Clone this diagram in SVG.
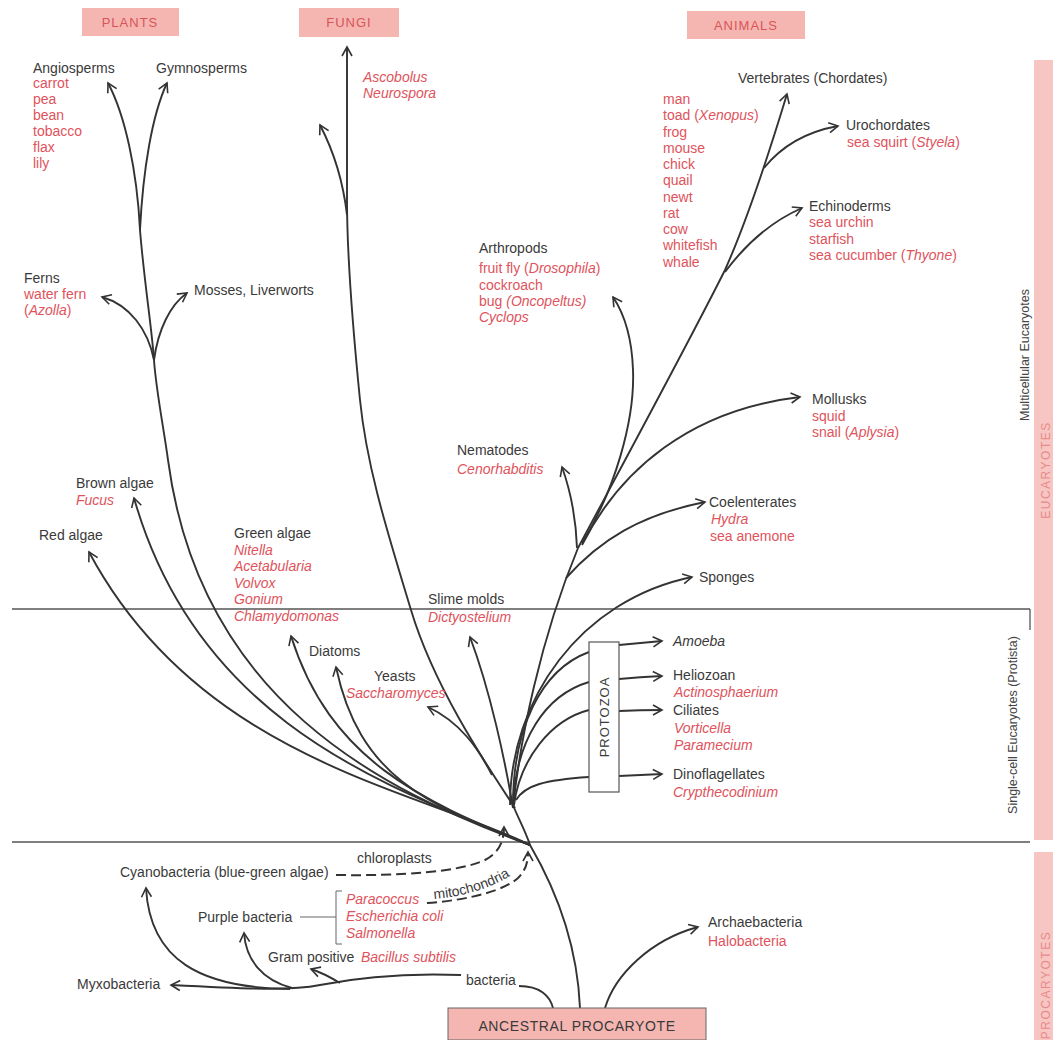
<svg xmlns="http://www.w3.org/2000/svg" width="1053" height="1040" viewBox="0 0 1053 1040">
<style>
text{font-family:"Liberation Sans",Arial,sans-serif;font-size:14px}
.lb{fill:#3a3a3a}
.sp{fill:#e0535c}
.it{font-style:italic}
.bx{fill:#f5b6b1}
.bt{fill:#d9545a;font-size:13px;letter-spacing:1px;text-anchor:middle}
.side{fill:#444;font-size:12.5px;text-anchor:middle}
.bar{fill:#e88a8a;font-size:12px;letter-spacing:1.5px;text-anchor:middle}
.c{fill:none;stroke:#333;stroke-width:1.9;marker-end:url(#ah)}
.t{fill:none;stroke:#333;stroke-width:1.9}
.d{fill:none;stroke:#333;stroke-width:2;stroke-dasharray:10 5;marker-end:url(#ah)}
.rule{stroke:#555;stroke-width:1.3;fill:none}
.thin{stroke:#666;stroke-width:1;fill:none}
</style>
<defs>
<marker id="ah" viewBox="-11 -7 13 14" markerWidth="13" markerHeight="14" refX="0" refY="0" orient="auto" markerUnits="userSpaceOnUse">
<path d="M-9,-5 L0,0 L-9,5" fill="none" stroke="#333" stroke-width="1.6"/>
</marker>
<path id="mitoPath" d="M434,899 C468,896 500,886 524,866"/>
</defs>
<rect width="1053" height="1040" fill="#fff"/>

<!-- section rules and side bars -->
<g id="sections">
<rect x="1034" y="60" width="19" height="780" fill="#f7c6c2"/>
<rect x="1034" y="852" width="19" height="188" fill="#f7c6c2"/>
<line class="rule" x1="12" y1="609" x2="1030" y2="609"/>
<line class="rule" x1="1030" y1="609" x2="1030" y2="630"/>
<line class="rule" x1="12" y1="842" x2="1030" y2="842"/>
<text class="side" x="1029" y="355" transform="rotate(-90 1029 355)">Multicellular Eucaryotes</text>
<text class="side" x="1017" y="725" transform="rotate(-90 1017 725)">Single-cell Eucaryotes (Protista)</text>
<text class="bar" x="1050" y="470" transform="rotate(-90 1050 470)">EUCARYOTES</text>
<text class="bar" x="1050" y="985" transform="rotate(-90 1050 985)">PROCARYOTES</text>
</g>

<g id="connectors">
<!-- trunk -->
<path class="t" d="M580,1008 C578,960 565,905 530,845"/>
<path class="t" d="M530,845 C525,830 518,818 513,805"/>
<!-- left bundle -->
<path class="c" d="M530,845 C420,790 200,760 89,552"/>
<path class="c" d="M530,845 C400,790 200,730 134,498"/>
<path class="t" d="M530,845 C380,790 200,700 168,460 C164,430 156,390 154,360 C152,330 144,280 140,230"/>
<path class="c" d="M140,230 C137,170 125,115 108,83"/>
<path class="c" d="M140,230 C143,170 152,115 167,83"/>
<path class="c" d="M154,360 C148,330 130,305 102,297"/>
<path class="c" d="M154,360 C158,330 170,305 187,293"/>
<path class="c" d="M530,845 C420,800 330,760 291,636"/>
<path class="c" d="M530,845 C430,805 360,780 336,667"/>
<!-- fungi -->
<path class="c" d="M515,808 C490,770 435,690 411,610 C390,540 367,470 360,400 C352,320 347,250 347,200 L347,47"/>
<path class="c" d="M347,215 C343,180 333,150 320,125"/>
<path class="c" d="M492,775 C478,748 460,722 428,707"/>
<path class="c" d="M513,808 C505,760 490,690 470,637"/>
<!-- animals -->
<path class="t" d="M513,808 C520,740 540,640 578,548"/>
<path class="c" d="M578,548 C625,460 690,340 725,270 C745,225 770,150 787,94"/>
<path class="c" d="M764,168 C780,148 805,132 838,126"/>
<path class="c" d="M725,272 C745,245 770,222 802,208"/>
<path class="c" d="M582,543 C615,490 635,420 633,370 C632,340 625,315 613,297"/>
<path class="c" d="M582,545 C620,470 690,410 800,397"/>
<path class="c" d="M577,548 C576,520 572,495 562,467"/>
<path class="c" d="M566,578 C600,540 640,515 705,502"/>
<path class="c" d="M510,805 C510,700 580,600 692,577"/>
<!-- protozoa -->
<path class="t" d="M513,805 C513,730 540,670 589,652"/>
<path class="t" d="M513,805 C516,740 545,695 589,682"/>
<path class="t" d="M514,805 C520,760 550,720 589,710"/>
<path class="t" d="M516,800 C525,785 545,780 589,777"/>
<path class="c" d="M619,645 Q640,643 662,641"/>
<path class="c" d="M619,679 Q640,677 662,676"/>
<path class="c" d="M619,711 Q640,710 662,710"/>
<path class="c" d="M619,776 Q640,775 662,774"/>
<!-- procaryotes -->
<path class="c" d="M605,1008 C615,975 650,940 698,927"/>
<path class="t" d="M519,986 C540,986 550,996 553,1008"/>
<path class="c" d="M461,975 C410,973 360,977 320,985 C290,991 250,989 171,985"/>
<path class="c" d="M290,989 C200,988 150,960 146,888"/>
<path class="c" d="M292,988 C262,980 246,960 244,933"/>
<path class="c" d="M340,983 C330,977 320,972 311,969"/>
<path class="d" d="M336,875 C400,876 460,872 485,860 C500,852 504,840 504,827"/>
<path class="d" d="M427,903 C470,900 505,890 518,878 C526,870 528,862 528,852"/>
<path class="thin" d="M300,917 L336,917 M342,891 L336,891 L336,944 L342,944"/>
</g>

<!-- kingdom boxes -->
<g id="plants-box"><rect class="bx" x="82" y="8" width="97" height="28"/><text class="bt" x="130" y="27">PLANTS</text></g>
<g id="fungi-box"><rect class="bx" x="299" y="8" width="100" height="29"/><text class="bt" x="349" y="27">FUNGI</text></g>
<g id="animals-box"><rect class="bx" x="687" y="11" width="118" height="28"/><text class="bt" x="746" y="30">ANIMALS</text></g>
<g id="ancestral"><rect x="448" y="1008" width="258" height="32" fill="#f5b6b1" stroke="#666" stroke-width="1"/><text x="577" y="1031" style="fill:#3a3a3a;font-size:14px;letter-spacing:0.6px;text-anchor:middle">ANCESTRAL PROCARYOTE</text></g>
<g id="protozoa"><rect x="589" y="642" width="30" height="150" fill="#fff" stroke="#555" stroke-width="1.2"/><text x="609" y="717" transform="rotate(-90 609 717)" style="fill:#3a3a3a;font-size:13px;letter-spacing:1px;text-anchor:middle">PROTOZOA</text></g>

<!-- plants -->
<g id="angiosperms"><text class="lb" x="33" y="73">Angiosperms</text>
<text class="sp" x="33" y="88">carrot</text><text class="sp" x="33" y="104">pea</text><text class="sp" x="33" y="120">bean</text><text class="sp" x="33" y="136">tobacco</text><text class="sp" x="33" y="152">flax</text><text class="sp" x="33" y="168">lily</text></g>
<g id="gymnosperms"><text class="lb" x="156" y="73">Gymnosperms</text></g>
<g id="ferns"><text class="lb" x="24" y="283">Ferns</text><text class="sp" x="24" y="299">water fern</text><text class="sp" x="24" y="315">(<tspan class="it">Azolla</tspan>)</text></g>
<g id="mosses"><text class="lb" x="194" y="295">Mosses, Liverworts</text></g>
<g id="brown-algae"><text class="lb" x="76" y="488">Brown algae</text><text class="sp it" x="76" y="505">Fucus</text></g>
<g id="red-algae"><text class="lb" x="39" y="540">Red algae</text></g>
<g id="green-algae"><text class="lb" x="234" y="538">Green algae</text>
<text class="sp it" x="234" y="555">Nitella</text><text class="sp it" x="234" y="571">Acetabularia</text><text class="sp it" x="234" y="588">Volvox</text><text class="sp it" x="234" y="604">Gonium</text><text class="sp it" x="234" y="621">Chlamydomonas</text></g>
<g id="diatoms"><text class="lb" x="309" y="656">Diatoms</text></g>
<g id="yeasts"><text class="lb" x="374" y="681">Yeasts</text><text class="sp it" x="346" y="698">Saccharomyces</text></g>
<g id="slime-molds"><text class="lb" x="428" y="604">Slime molds</text><text class="sp it" x="428" y="622">Dictyostelium</text></g>
<g id="fungi"><text class="sp it" x="363" y="82">Ascobolus</text><text class="sp it" x="363" y="98">Neurospora</text></g>

<!-- animals -->
<g id="arthropods"><text class="lb" x="479" y="253">Arthropods</text>
<text class="sp" x="479" y="273">fruit fly (<tspan class="it">Drosophila</tspan>)</text><text class="sp" x="479" y="290">cockroach</text><text class="sp" x="479" y="306">bug <tspan class="it">(Oncopeltus)</tspan></text><text class="sp it" x="479" y="322">Cyclops</text></g>
<g id="nematodes"><text class="lb" x="457" y="455">Nematodes</text><text class="sp it" x="457" y="474">Cenorhabditis</text></g>
<g id="vertebrates"><text class="lb" x="738" y="83">Vertebrates (Chordates)</text>
<text class="sp" x="663" y="104">man</text><text class="sp" x="663" y="120">toad (<tspan class="it">Xenopus</tspan>)</text><text class="sp" x="663" y="137">frog</text><text class="sp" x="663" y="153">mouse</text><text class="sp" x="663" y="169">chick</text><text class="sp" x="663" y="185">quail</text><text class="sp" x="663" y="202">newt</text><text class="sp" x="663" y="218">rat</text><text class="sp" x="663" y="234">cow</text><text class="sp" x="663" y="250">whitefish</text><text class="sp" x="663" y="267">whale</text></g>
<g id="urochordates"><text class="lb" x="846" y="130">Urochordates</text><text class="sp" x="847" y="147">sea squirt (<tspan class="it">Styela</tspan>)</text></g>
<g id="echinoderms"><text class="lb" x="809" y="211">Echinoderms</text><text class="sp" x="809" y="227">sea urchin</text><text class="sp" x="809" y="244">starfish</text><text class="sp" x="809" y="260">sea cucumber (<tspan class="it">Thyone</tspan>)</text></g>
<g id="mollusks"><text class="lb" x="812" y="404">Mollusks</text><text class="sp" x="812" y="421">squid</text><text class="sp" x="812" y="437">snail (<tspan class="it">Aplysia</tspan>)</text></g>
<g id="coelenterates"><text class="lb" x="709" y="507">Coelenterates</text><text class="sp it" x="711" y="524">Hydra</text><text class="sp" x="710" y="541">sea anemone</text></g>
<g id="sponges"><text class="lb" x="699" y="582">Sponges</text></g>

<!-- protista -->
<g id="amoeba"><text class="lb it" x="673" y="646">Amoeba</text></g>
<g id="heliozoan"><text class="lb" x="673" y="680">Heliozoan</text><text class="sp it" x="674" y="697">Actinosphaerium</text></g>
<g id="ciliates"><text class="lb" x="673" y="715">Ciliates</text><text class="sp it" x="674" y="733">Vorticella</text><text class="sp it" x="674" y="750">Paramecium</text></g>
<g id="dinoflagellates"><text class="lb" x="673" y="779">Dinoflagellates</text><text class="sp it" x="673" y="797">Crypthecodinium</text></g>

<!-- procaryotes -->
<g id="cyanobacteria"><text class="lb" x="120" y="877">Cyanobacteria (blue-green algae)</text></g>
<g id="chloroplasts"><text class="lb" x="357" y="863">chloroplasts</text></g>
<g id="mitochondria"><text class="lb"><textPath href="#mitoPath">mitochondria</textPath></text></g>
<g id="purple-bacteria"><text class="lb" x="198" y="922">Purple bacteria</text>
<text class="sp it" x="346" y="904">Paracoccus</text><text class="sp it" x="346" y="921">Escherichia coli</text><text class="sp it" x="346" y="938">Salmonella</text></g>
<g id="gram-positive"><text class="lb" x="268" y="962">Gram positive</text><text class="sp it" x="361" y="962">Bacillus subtilis</text></g>
<g id="myxobacteria"><text class="lb" x="77" y="989">Myxobacteria</text></g>
<g id="bacteria"><text class="lb" x="466" y="985">bacteria</text></g>
<g id="archaebacteria"><text class="lb" x="708" y="927">Archaebacteria</text><text class="sp" x="708" y="946">Halobacteria</text></g>
</svg>
